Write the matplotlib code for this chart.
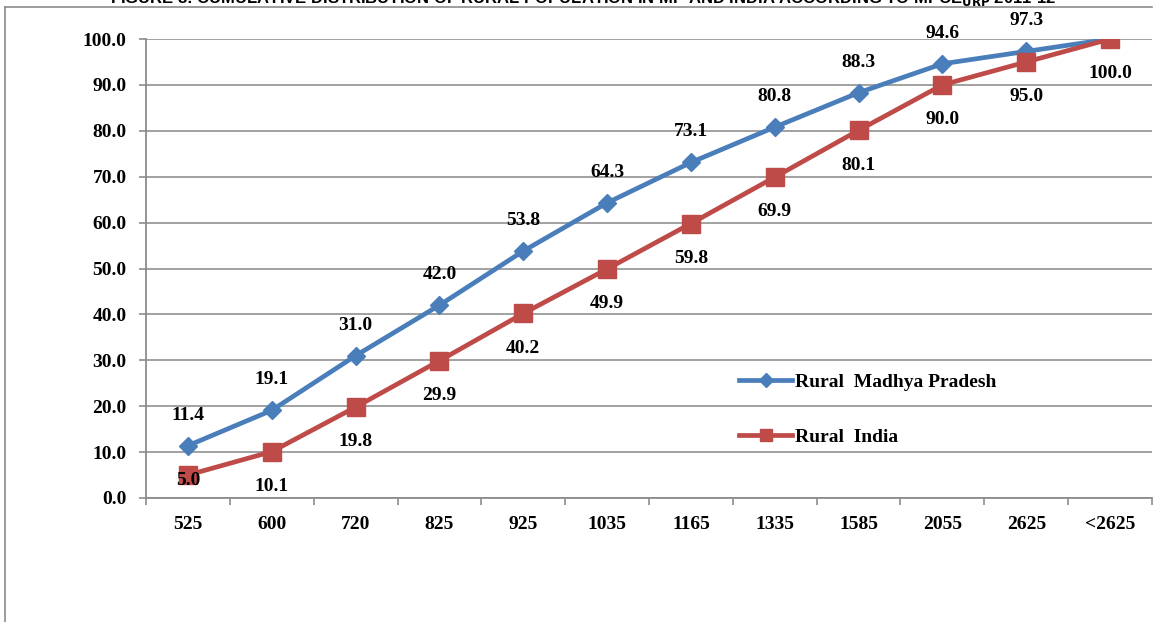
import matplotlib
matplotlib.use("Agg")
import matplotlib.pyplot as plt
from matplotlib.lines import Line2D
import numpy as np

# MPCE class limits (Rs.) and cumulative share of rural population (%)
categories = ["525", "600", "720", "825", "925", "1035", "1165", "1335",
              "1585", "2055", "2625", "<2625"]
rural_mp = [11.4, 19.1, 31.0, 42.0, 53.8, 64.3, 73.1, 80.8, 88.3, 94.6, 97.3, 100.0]
rural_india = [5.0, 10.1, 19.8, 29.9, 40.2, 49.9, 59.8, 69.9, 80.1, 90.0, 95.0, 100.0]
y_ticks = [0, 10, 20, 30, 40, 50, 60, 70, 80, 90, 100]

BLUE = "#4a7ebb"
RED = "#be4b48"
GRID = "#9a9a9a"
SERIF = "Liberation Serif"
FS = 14

W, H = 1164, 622
fig = plt.figure(figsize=(W / 100, H / 100), dpi=100)
fig.patch.set_facecolor("white")

# outer chart frame (left and top edges)
fig.add_artist(Line2D([5 / W, 5 / W], [0, 1 - 7 / H], color="#8c8c8c", lw=1.2,
                      transform=fig.transFigure))
fig.add_artist(Line2D([5 / W, 1152 / W], [1 - 7 / H, 1 - 7 / H], color="#8c8c8c",
                      lw=1.2, transform=fig.transFigure))

# title
fig.text(583 / W, 1 + 1 / H,
         "FIGURE 8: CUMULATIVE DISTRIBUTION OF RURAL POPULATION IN MP AND INDIA "
         "ACCORDING TO MPCE$_{\\mathbf{URP}}$ 2011-12",
         ha="center", va="center", fontsize=12, fontweight="bold",
         family="Liberation Sans", color="black")

left, right = 146 / W, 1152 / W
bottom, top = (H - 498) / H, (H - 39) / H
ax = fig.add_axes([left, bottom, right - left, top - bottom])

x = np.arange(len(categories))
ax.plot(x, rural_mp, color=BLUE, lw=3.4, marker="D", ms=9.5, mec=BLUE, mfc=BLUE,
        label="Rural  Madhya Pradesh", zorder=3, solid_joinstyle="round")
ax.plot(x, rural_india, color=RED, lw=3.4, marker="s", ms=13, mec=RED, mfc=RED,
        label="Rural  India", zorder=4, solid_joinstyle="round")

# data labels: Madhya Pradesh above, India below
for xi, v in zip(x[:-1], rural_mp[:-1]):
    ax.annotate(f"{v:.1f}", (xi, v), xytext=(0, 22), textcoords="offset points",
                ha="center", va="center", fontsize=FS, fontweight="bold",
                family=SERIF, zorder=6)
for i, (xi, v) in enumerate(zip(x, rural_india)):
    dy = -4 if i == 0 else -25
    ax.annotate(f"{v:.1f}", (xi, v), xytext=(0, dy), textcoords="offset points",
                ha="center", va="center", fontsize=FS, fontweight="bold",
                family=SERIF, zorder=6, annotation_clip=False)

ax.set_xlim(-0.5, len(categories) - 0.5)
ax.set_ylim(0, 100)
ax.set_yticks(y_ticks)
ax.set_yticklabels([f"{t:.1f}" for t in y_ticks])
ax.set_xticks(x)
ax.set_xticklabels(categories)
ax.set_xticks(np.arange(-0.5, len(categories)), minor=True)

ax.grid(axis="y", color=GRID, lw=1.3, zorder=0)
ax.set_axisbelow(True)
for s in ("top", "right"):
    ax.spines[s].set_visible(False)
for s in ("left", "bottom"):
    ax.spines[s].set_color("#8c8c8c")
    ax.spines[s].set_linewidth(1.3)

ax.tick_params(axis="x", which="major", length=0, pad=13)
ax.tick_params(axis="x", which="minor", length=5, width=1.2, color="#8c8c8c")
ax.tick_params(axis="y", length=5, width=1.2, color="#8c8c8c", pad=9)
for lab in ax.get_xticklabels() + ax.get_yticklabels():
    lab.set_fontfamily(SERIF)
    lab.set_fontweight("bold")
    lab.set_fontsize(FS)

leg = ax.legend(loc="upper left", bbox_to_anchor=((739 - 146) / (1152 - 146),
                                                   (498 - 373) / (498 - 39)),
                frameon=False, handlelength=2.75, handletextpad=0.15,
                labelspacing=1.95, borderpad=0, borderaxespad=0, markerscale=0.7,
                prop={"family": SERIF, "weight": "bold", "size": FS})

fig.savefig("out.png", dpi=100, facecolor="white")
